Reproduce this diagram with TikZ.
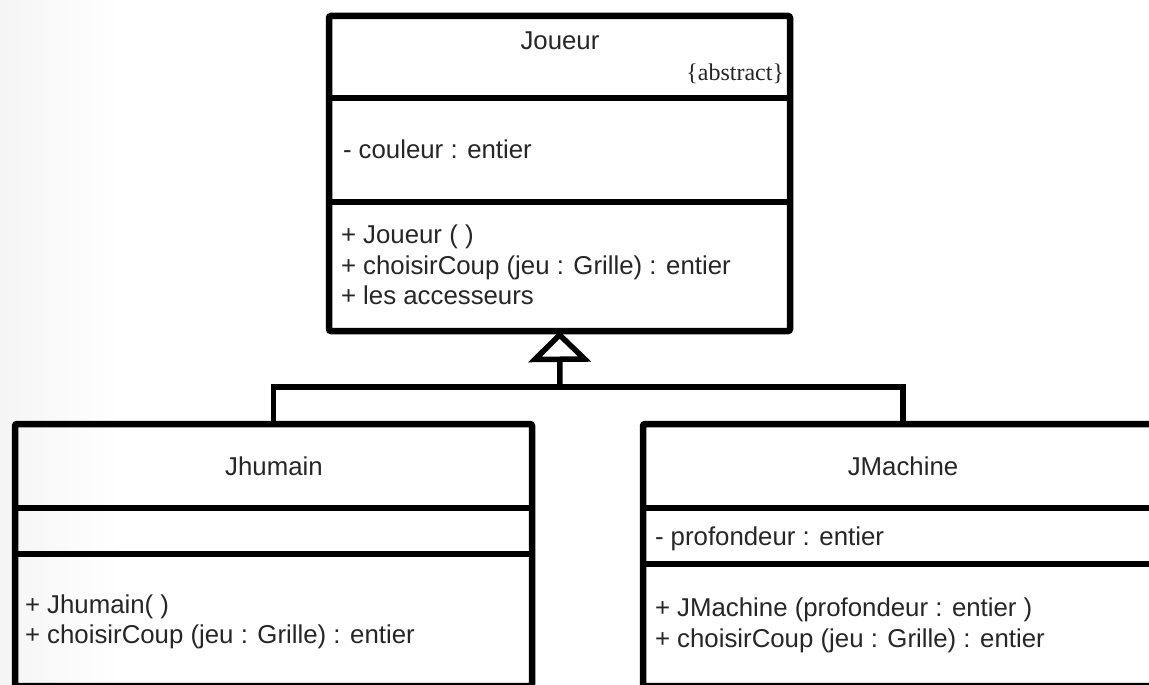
\documentclass[tikz,border=0pt]{standalone}
\usepackage{fontspec}
\setmainfont{Liberation Sans}
\newfontfamily\serifab{Liberation Serif}
\usetikzlibrary{arrows.meta}
\newcommand\umlfont{\fontsize{25.8}{31}\selectfont}
\newcommand\umlsmall{\serifab\fontsize{24}{28}\selectfont}
\tikzset{
  classbox/.style={draw=black, line width=6.5pt, rounded corners=2pt, inner sep=0pt, outer sep=0pt},
  divider/.style={draw=black, line width=6.5pt},
  txt/.style={inner sep=0pt, outer sep=0pt, font=\umlfont, text=black!85},
  conn/.style={draw=black, line width=5.5pt},
}
\begin{document}
\begin{tikzpicture}[x=1pt, y=-1pt]
\useasboundingbox (0,0) rectangle (1149,685);
\clip (0,0) rectangle (1149,685);
\fill[white] (0,0) rectangle (1149,685);
\shade[left color=black!4, right color=white] (0,0) rectangle (120,685);

% Joueur
\node[classbox, minimum width=461pt, minimum height=315pt] (joueur) at (559.5,173.5) {};
\draw[divider] (joueur.west |- 0,98) -- (joueur.east |- 0,98);
\draw[divider] (joueur.west |- 0,202) -- (joueur.east |- 0,202);
\node[txt, anchor=base] (jname) at (560,50) {Joueur};
\node[txt, anchor=base east, font=\umlsmall] (jabs) at (784,81) {\{abstract\}};
\node[txt, anchor=base west] (jatt) at (343,158) {- couleur : entier};
\node[txt, anchor=base west] (jm1) at (341,243) {+ Joueur ( )};
\node[txt, anchor=base west] (jm2) at (341,274) {+ choisirCoup (jeu : Grille) : entier};
\node[txt, anchor=base west] (jm3) at (341,304) {+ les accesseurs};

% Jhumain
\node[classbox, minimum width=517pt, minimum height=262pt] (jhumain) at (273.5,555) {};
\draw[divider] (jhumain.west |- 0,508) -- (jhumain.east |- 0,508);
\draw[divider] (jhumain.west |- 0,554) -- (jhumain.east |- 0,554);
\node[txt, anchor=base] (hname) at (274,475) {Jhumain};
\node[txt, anchor=base west] (hm1) at (25,613) {+ Jhumain( )};
\node[txt, anchor=base west] (hm2) at (25,643) {+ choisirCoup (jeu : Grille) : entier};

% JMachine
\node[classbox, minimum width=520pt, minimum height=262pt] (jmachine) at (903,555) {};
\draw[divider] (jmachine.west |- 0,508) -- (jmachine.east |- 0,508);
\draw[divider] (jmachine.west |- 0,564) -- (jmachine.east |- 0,564);
\node[txt, anchor=base] (mname) at (903,475) {JMachine};
\node[txt, anchor=base west] (matt) at (655,545) {- profondeur : entier};
\node[txt, anchor=base west] (mm1) at (655,616) {+ JMachine (profondeur : entier )};
\node[txt, anchor=base west] (mm2) at (655,647) {+ choisirCoup (jeu : Grille) : entier};

% Inheritance
\coordinate (hub) at (560,387);
\draw[conn] (jhumain.north) |- (hub) -| (jmachine.north);
\draw[conn, -{Triangle[open, length=31pt, width=62pt]}] (hub) -- (joueur.south);
\end{tikzpicture}
\end{document}
